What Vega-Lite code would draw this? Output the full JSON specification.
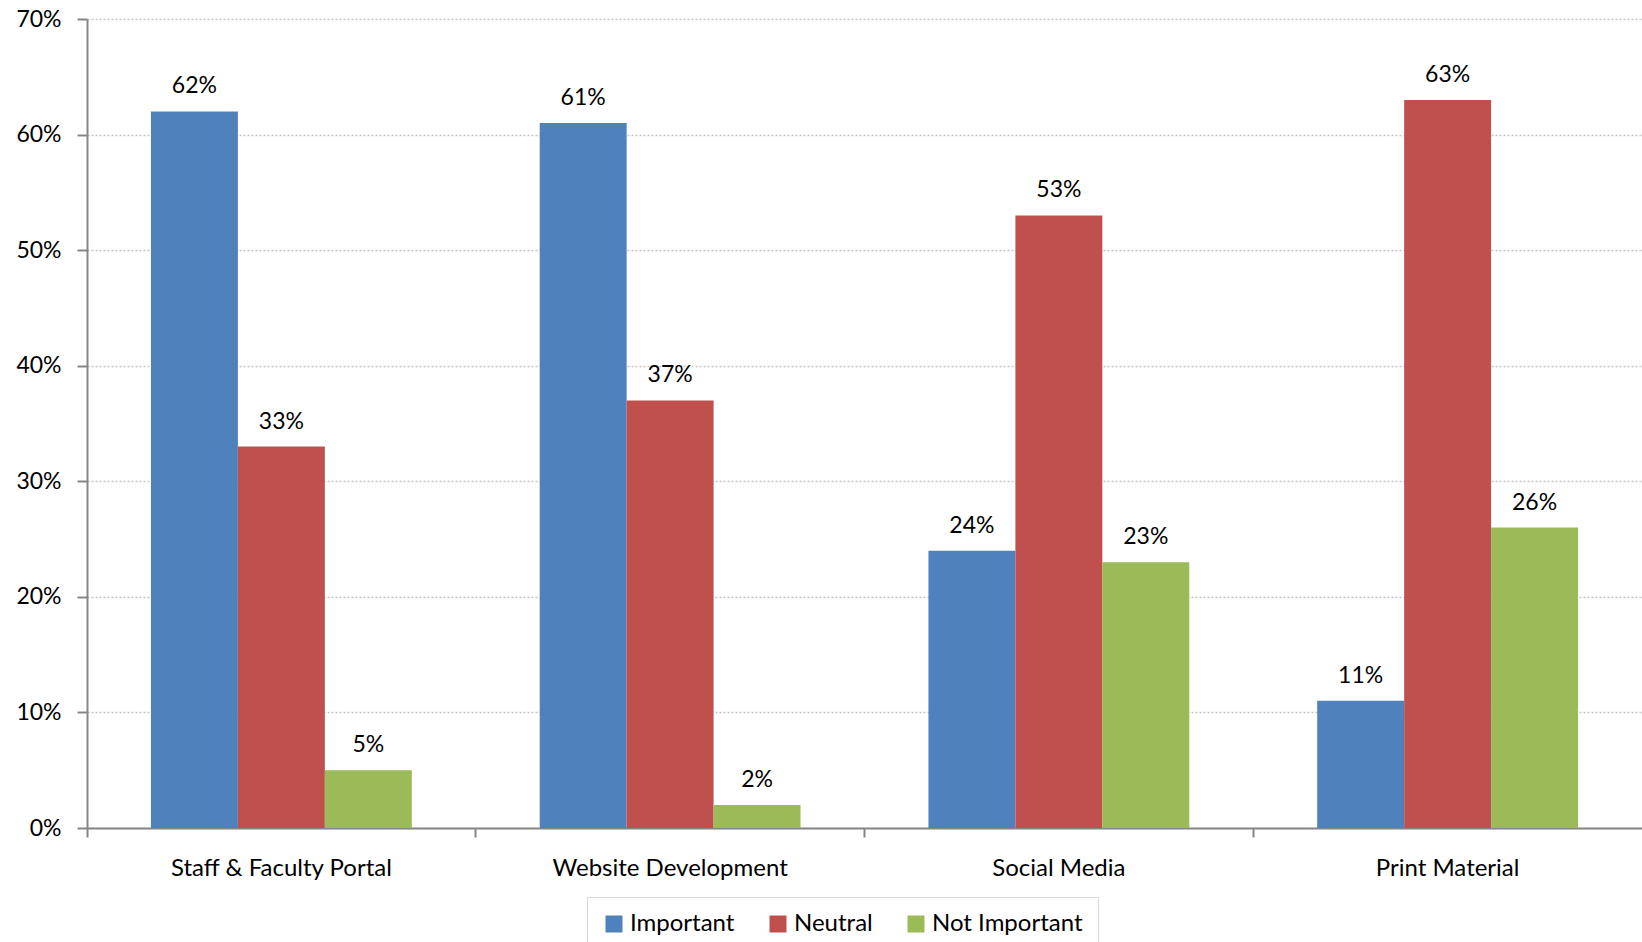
{
  "$schema": "https://vega.github.io/schema/vega-lite/v6.json",
  "width": 1555,
  "height": 809,
  "autosize": {"type": "none"},
  "padding": {"left": 87, "top": 19, "right": 0, "bottom": 114},
  "background": "#ffffff",
  "data": {
    "values": [
      {"category": "Staff & Faculty  Portal", "rating": "Important", "value": 0.62},
      {"category": "Staff & Faculty  Portal", "rating": "Neutral", "value": 0.33},
      {"category": "Staff & Faculty  Portal", "rating": "Not Important", "value": 0.05},
      {"category": "Website Development", "rating": "Important", "value": 0.61},
      {"category": "Website Development", "rating": "Neutral", "value": 0.37},
      {"category": "Website Development", "rating": "Not Important", "value": 0.02},
      {"category": "Social Media", "rating": "Important", "value": 0.24},
      {"category": "Social Media", "rating": "Neutral", "value": 0.53},
      {"category": "Social Media", "rating": "Not Important", "value": 0.23},
      {"category": "Print Material", "rating": "Important", "value": 0.11},
      {"category": "Print Material", "rating": "Neutral", "value": 0.63},
      {"category": "Print Material", "rating": "Not Important", "value": 0.26}
    ]
  },
  "encoding": {
    "x": {
      "field": "category",
      "type": "nominal",
      "sort": null,
      "title": null,
      "scale": {"paddingInner": 0.329, "paddingOuter": 0.1645},
      "axis": {
        "labelAngle": 0,
        "labelFont": "Lato",
        "labelFontSize": 24,
        "labelColor": "#000000",
        "labelPadding": 19,
        "labelLimit": 0,
        "bandPosition": -0.245,
        "ticks": true,
        "tickSize": 9,
        "tickWidth": 2,
        "tickColor": "#868686",
        "domainColor": "#868686",
        "domainWidth": 2,
        "grid": false
      }
    },
    "xOffset": {
      "field": "rating",
      "type": "nominal",
      "sort": ["Important", "Neutral", "Not Important"],
      "scale": {"paddingInner": 0, "paddingOuter": 0}
    },
    "y": {
      "field": "value",
      "type": "quantitative",
      "title": null,
      "scale": {"domain": [0, 0.7], "nice": false},
      "axis": {
        "values": [0, 0.1, 0.2, 0.3, 0.4, 0.5, 0.6, 0.7],
        "format": ".0%",
        "labelFont": "Lato",
        "labelFontSize": 23,
        "labelColor": "#000000",
        "labelPadding": 16,
        "tickSize": 10,
        "tickWidth": 2,
        "tickColor": "#868686",
        "domainColor": "#868686",
        "domainWidth": 2,
        "grid": true,
        "gridColor": "#c4c4c4",
        "gridDash": [2, 2],
        "gridWidth": 1.5
      }
    }
  },
  "layer": [
    {
      "mark": {"type": "bar"},
      "encoding": {
        "color": {
          "field": "rating",
          "type": "nominal",
          "sort": ["Important", "Neutral", "Not Important"],
          "scale": {
            "domain": ["Important", "Neutral", "Not Important"],
            "range": ["#4F81BD", "#C0504D", "#9BBB59"]
          },
          "legend": {
            "title": null,
            "orient": "none",
            "legendX": 500,
            "legendY": 878,
            "direction": "horizontal",
            "columns": 3,
            "columnPadding": 31,
            "symbolType": "square",
            "symbolSize": 289,
            "symbolStrokeWidth": 0,
            "symbolOpacity": 1,
            "labelFont": "Lato",
            "labelFontSize": 24,
            "labelColor": "#000000",
            "labelOffset": 4,
            "padding": 15,
            "strokeColor": "#d9d9d9",
            "fillColor": "#ffffff"
          }
        }
      }
    },
    {
      "mark": {
        "type": "text",
        "baseline": "alphabetic",
        "dy": -18,
        "font": "Lato",
        "fontSize": 23,
        "color": "#000000"
      },
      "encoding": {
        "text": {"field": "value", "type": "quantitative", "format": ".0%"}
      }
    }
  ],
  "config": {
    "view": {"stroke": null}
  }
}
